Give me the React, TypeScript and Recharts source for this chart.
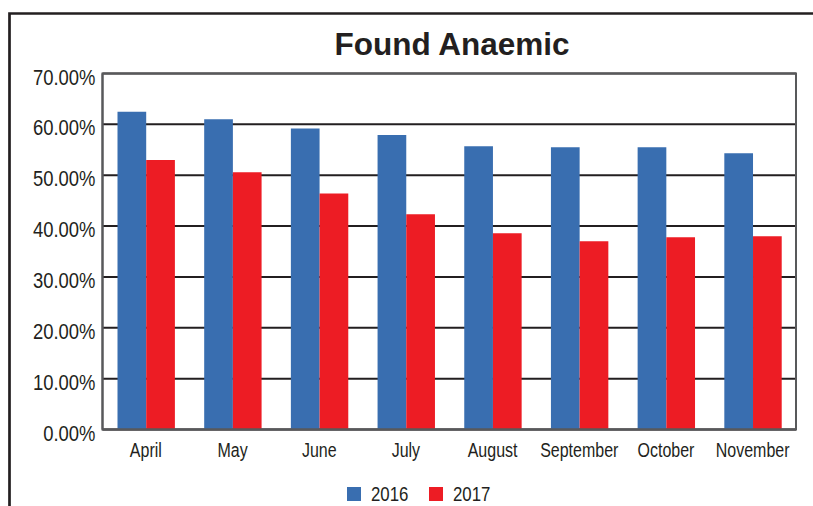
import React from 'react';
import { BarChart, Bar, XAxis, YAxis, CartesianGrid, Legend } from 'recharts';

const months = ['April', 'May', 'June', 'July', 'August', 'September', 'October', 'November'];
const values2016 = [62.5, 61.0, 59.2, 57.9, 55.7, 55.5, 55.5, 54.3];
const values2017 = [53.0, 50.6, 46.4, 42.3, 38.6, 37.0, 37.8, 38.0];
const yTicks = [0, 10, 20, 30, 40, 50, 60, 70];
const seriesNames = ['2016', '2017'];
const seriesColors = ['#396EB0', '#ED1C24'];

const data = months.map((m, i) => ({ month: m, v2016: values2016[i], v2017: values2017[i] }));

const SANS = "'Liberation Sans', Arial, sans-serif";
const SX = 0.82;
const TEXT = '#231F20';

const YTick = (props: any) => {
  const { x, y, payload } = props;
  return (
    <text
      transform={`translate(${x},${y + 11}) scale(${SX},1)`}
      x={0}
      y={0}
      textAnchor="end"
      fontFamily={SANS}
      fontSize={22.5}
      fill={TEXT}
    >
      {`${Number(payload.value).toFixed(2)}%`}
    </text>
  );
};

const XTick = (props: any) => {
  const { x, y, payload } = props;
  return (
    <text
      transform={`translate(${x},${y + 25.5}) scale(${SX},1)`}
      x={0}
      y={0}
      textAnchor="middle"
      fontFamily={SANS}
      fontSize={19.5}
      fill={TEXT}
    >
      {payload.value}
    </text>
  );
};

const LegendContent = () => (
  <div style={{ display: 'flex', alignItems: 'center', fontFamily: SANS, fontSize: 20.5, color: TEXT, lineHeight: '22px', width: 220 }}>
    {seriesNames.map((n, i) => (
      <div key={n} style={{ display: 'flex', alignItems: 'center', width: i === 0 ? 82 : 100, flexShrink: 0 }}>
        <span style={{ display: 'inline-block', width: 14, height: 14, flexShrink: 0, background: seriesColors[i], marginRight: 10 }} />
        <span style={{ display: 'inline-block', transform: `scaleX(${SX})`, transformOrigin: 'left center' }}>{n}</span>
      </div>
    ))}
  </div>
);

export default function App() {
  return (
    <div style={{ position: 'absolute', left: 0, top: 0, width: 813, height: 506, background: '#fff', overflow: 'hidden' }}>
      <svg width={813} height={506} style={{ position: 'absolute', left: 0, top: 0 }}>
        <path d="M9.5 520 L9.5 13.5 L820 13.5" fill="none" stroke="#231F20" strokeWidth={2.7} />
        <text x={452} y={55} textAnchor="middle" fontFamily={SANS} fontWeight="bold" fontSize={31.5} fill={TEXT}>
          Found Anaemic
        </text>
      </svg>
      <div style={{ position: 'absolute', left: 0, top: 0 }}>
        <BarChart
          width={813}
          height={506}
          data={data}
          margin={{ top: 73.5, right: 17, left: 2.5, bottom: 46.5 }}
          barGap={0}
          barSize={28.7}
        >
          <CartesianGrid vertical={false} stroke="#231F20" strokeWidth={2} />
          <XAxis
            dataKey="month"
            height={30}
            tickLine={false}
            tickSize={0}
            axisLine={{ stroke: '#58595B', strokeWidth: 2 }}
            tick={<XTick />}
            interval={0}
          />
          <YAxis
            width={100}
            domain={[0, 70]}
            ticks={yTicks}
            tickLine={false}
            tickSize={0}
            tickMargin={7}
            axisLine={{ stroke: '#58595B', strokeWidth: 2 }}
            tick={<YTick />}
          />
          <Legend
            layout="horizontal"
            verticalAlign="middle"
            align="center"
            content={<LegendContent />}
            wrapperStyle={{ left: 347, top: 483, width: 220, height: 22 }}
          />
          <Bar dataKey="v2016" name={seriesNames[0]} fill={seriesColors[0]} isAnimationActive={false} />
          <Bar dataKey="v2017" name={seriesNames[1]} fill={seriesColors[1]} isAnimationActive={false} />
        </BarChart>
      </div>
      <svg width={813} height={506} style={{ position: 'absolute', left: 0, top: 0, pointerEvents: 'none' }}>
        <rect x={102.5} y={73.5} width={693.5} height={356} fill="none" stroke="#58595B" strokeWidth={2} />
      </svg>
    </div>
  );
}
